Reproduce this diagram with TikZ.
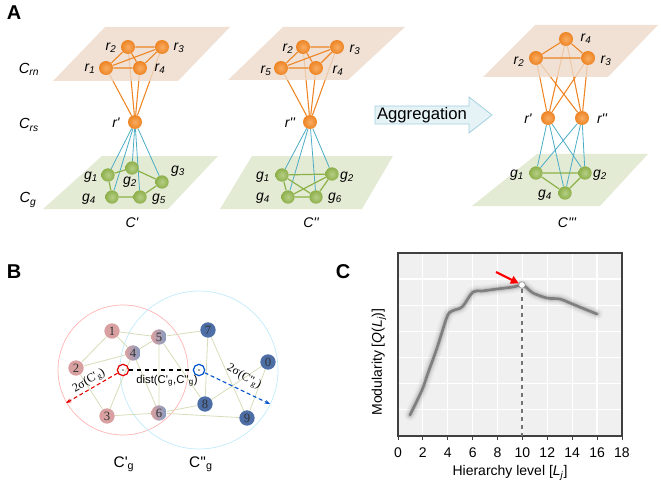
\documentclass[tikz,border=0pt]{standalone}
\usepackage{fontspec}
\setmainfont{Liberation Sans}
\newfontfamily\numfont{Liberation Serif}
\usetikzlibrary{arrows.meta}

\pgfdeclarelayer{deep}
\pgfdeclarelayer{planes}
\pgfdeclarelayer{links}
\pgfsetlayers{deep,planes,links,main}

\definecolor{rnplane}{HTML}{EDDACA}
\definecolor{gplane}{HTML}{E3EBD5}
\definecolor{rorange}{HTML}{EE8423}
\definecolor{rlight}{HTML}{F8AC62}
\definecolor{ggreen}{HTML}{8DAF4A}
\definecolor{glight}{HTML}{B6CF86}
\definecolor{gedge}{HTML}{8CB147}
\definecolor{bedge}{HTML}{4BACC6}
\definecolor{pinkball}{HTML}{D8A0A0}
\definecolor{blueball}{HTML}{4D6FA6}
\definecolor{weblink}{HTML}{D6DDB8}
\definecolor{plotbg}{HTML}{F0F0F0}
\definecolor{curvegray}{HTML}{7F7F7F}
\definecolor{arrowbg}{HTML}{E5F2F6}
\definecolor{arrowline}{HTML}{A3D1DF}

\newcommand{\subl}[2]{#1\textsubscript{#2}}
\newcommand{\pr}{\textquotesingle}

\tikzset{
  rball/.style={circle, inner sep=0pt, minimum size=10.5pt, shading=radial,
    inner color=rlight, outer color=rorange},
  gball/.style={circle, inner sep=0pt, minimum size=10pt, shading=radial,
    inner color=glight, outer color=ggreen},
  lbl/.style={font=\fontsize{10.5}{12}\selectfont\itshape, inner sep=0pt},
  layerlbl/.style={font=\fontsize{11}{13}\selectfont\itshape, inner sep=0pt},
  panel/.style={font=\fontsize{15}{17}\selectfont\bfseries, inner sep=0pt},
  redge/.style={rorange, line width=0.8pt},
  bedges/.style={bedge, line width=0.6pt},
  gedges/.style={gedge, line width=0.9pt},
  nball/.style={circle, inner sep=0pt, minimum size=11.5pt,
    font=\numfont\fontsize{9.5}{10}\selectfont, text=black!80},
  web/.style={weblink, line width=0.6pt},
  tick/.style={font=\fontsize{10.5}{12}\selectfont, inner sep=0pt}
}

\begin{document}
\begin{tikzpicture}[x=0.75pt, y=-0.75pt]
  \useasboundingbox (0,0) rectangle (661,485);

  % Panel A
  \node[panel] (pa) at (14,13) {A};
  \node[layerlbl] (lrn) at (29,69) {\subl{C}{rn}};
  \node[layerlbl] (lrs) at (29,125) {\subl{C}{rs}};
  \node[layerlbl] (lg) at (28,200) {\subl{C}{g}};

  % C' column
  \node[rball] (a1) at (106,68) {};
  \node[rball] (a2) at (128,47) {};
  \node[rball] (a3) at (162,47) {};
  \node[rball] (a4) at (140,68) {};
  \node[rball] (ap) at (135,122) {};
  \node[gball] (ag1) at (108,175) {};
  \node[gball] (ag2) at (132,168) {};
  \node[gball] (ag3) at (162,182) {};
  \node[gball] (ag4) at (112,197) {};
  \node[gball] (ag5) at (140,197) {};
  \node[lbl] (la1) at (90,69) {\subl{r}{1}};
  \node[lbl] (la2) at (111,48) {\subl{r}{2}};
  \node[lbl] (la3) at (179,48) {\subl{r}{3}};
  \node[lbl] (la4) at (160,69) {\subl{r}{4}};
  \node[lbl] (lap) at (116,123) {r\pr};
  \node[lbl] (lag1) at (91,177) {\subl{g}{1}};
  \node[lbl] (lag2) at (130,182) {\subl{g}{2}};
  \node[lbl] (lag3) at (178,171) {\subl{g}{3}};
  \node[lbl] (lag4) at (89,199) {\subl{g}{4}};
  \node[lbl] (lag5) at (159,199) {\subl{g}{5}};
  \node[lbl] (ca) at (132,223) {C\pr};
  \begin{pgfonlayer}{planes}
    \fill[rnplane, fill opacity=0.8] (105,27) -- (230,27) -- (178,81) -- (53,81) -- cycle;
    \fill[gplane] (102,156) -- (218,156) -- (168,209) -- (43,209) -- cycle;
  \end{pgfonlayer}
  \begin{pgfonlayer}{deep}
    \draw[redge] (ap) -- (a1) (ap) -- (a2) (ap) -- (a3) (ap) -- (a4);
  \end{pgfonlayer}
  \begin{pgfonlayer}{links}
    \draw[redge] (a1) -- (a2) -- (a3) -- (a4) -- (a1) -- (a3) (a2) -- (a4);
    \draw[bedges] (ap) -- (ag1) (ap) -- (ag2) (ap) -- (ag3) (ap) -- (ag4) (ap) -- (ag5);
    \draw[gedges] (ag1) -- (ag2) -- (ag3) -- (ag5) -- (ag4) -- (ag1);
  \end{pgfonlayer}

  % C'' column
  \node[rball] (b5) at (281,68) {};
  \node[rball] (b2) at (303,47) {};
  \node[rball] (b3) at (337,47) {};
  \node[rball] (b4) at (316,68) {};
  \node[rball] (bp) at (310,122) {};
  \node[gball] (bg1) at (282,175) {};
  \node[gball] (bg2) at (332,174) {};
  \node[gball] (bg4) at (288,197) {};
  \node[gball] (bg6) at (316,197) {};
  \node[lbl] (lb2) at (288,49) {\subl{r}{2}};
  \node[lbl] (lb3) at (355,50) {\subl{r}{3}};
  \node[lbl] (lb5) at (266,71) {\subl{r}{5}};
  \node[lbl] (lb4) at (338,71) {\subl{r}{4}};
  \node[lbl] (lbp) at (290,123) {r\pr\pr};
  \node[lbl] (lbg1) at (263,177) {\subl{g}{1}};
  \node[lbl] (lbg2) at (347,177) {\subl{g}{2}};
  \node[lbl] (lbg4) at (263,198) {\subl{g}{4}};
  \node[lbl] (lbg6) at (335,198) {\subl{g}{6}};
  \node[lbl] (cb) at (311,223) {C\pr\pr};
  \begin{pgfonlayer}{planes}
    \fill[rnplane, fill opacity=0.8] (283,27) -- (405,27) -- (348,80) -- (228,80) -- cycle;
    \fill[gplane] (252,156) -- (393,156) -- (362,209) -- (220,209) -- cycle;
  \end{pgfonlayer}
  \begin{pgfonlayer}{deep}
    \draw[redge] (bp) -- (b5) (bp) -- (b2) (bp) -- (b3) (bp) -- (b4);
  \end{pgfonlayer}
  \begin{pgfonlayer}{links}
    \draw[redge] (b5) -- (b2) -- (b3) -- (b4) -- (b5) -- (b3) (b2) -- (b4);
    \draw[bedges] (bp) -- (bg1) (bp) -- (bg2) (bp) -- (bg4) (bp) -- (bg6);
    \draw[gedges] (bg1) -- (bg2) -- (bg6) -- (bg4) -- (bg1) -- (bg6) (bg2) -- (bg4);
  \end{pgfonlayer}

  % Aggregation arrow
  \draw[arrowline, fill=arrowbg, line width=0.6pt]
    (375,106) -- (469,106) -- (469,97) -- (492,115) -- (469,133) -- (469,124)
    -- (375,124) -- cycle;
  \node[font=\fontsize{12.5}{14}\selectfont, inner sep=0pt] (agg) at (422,115) {Aggregation};

  % C''' column
  \node[rball] (c4) at (566,39) {};
  \node[rball] (c2) at (536,58) {};
  \node[rball] (c3) at (588,58) {};
  \node[rball] (cp) at (548,118) {};
  \node[rball] (cpp) at (582,118) {};
  \node[gball] (cg1) at (536,173) {};
  \node[gball] (cg2) at (585,173) {};
  \node[gball] (cg4) at (565,193) {};
  \node[lbl] (lc4) at (586,39) {\subl{r}{4}};
  \node[lbl] (lc2) at (519,62) {\subl{r}{2}};
  \node[lbl] (lc3) at (606,61) {\subl{r}{3}};
  \node[lbl] (lcp) at (528,119) {r\pr};
  \node[lbl] (lcpp) at (602,119) {r\pr\pr};
  \node[lbl] (lcg1) at (517,175) {\subl{g}{1}};
  \node[lbl] (lcg2) at (600,175) {\subl{g}{2}};
  \node[lbl] (lcg4) at (545,195) {\subl{g}{4}};
  \node[lbl] (cc) at (567,223) {C\pr\pr\pr};
  \begin{pgfonlayer}{planes}
    \fill[rnplane, fill opacity=0.8] (535,25) -- (658,25) -- (608,77) -- (483,77) -- cycle;
    \fill[gplane] (537,154) -- (648,154) -- (600,206) -- (472,206) -- cycle;
  \end{pgfonlayer}
  \begin{pgfonlayer}{deep}
    \draw[redge] (cp) -- (c2) (cp) -- (c4) (cp) -- (c3)
      (cpp) -- (c2) (cpp) -- (c4) (cpp) -- (c3);
  \end{pgfonlayer}
  \begin{pgfonlayer}{links}
    \draw[redge] (c2) -- (c4) -- (c3) -- (c2);
    \draw[bedges] (cp) -- (cg1) (cp) -- (cg2) (cp) -- (cg4)
      (cpp) -- (cg1) (cpp) -- (cg2) (cpp) -- (cg4);
    \draw[gedges] (cg1) -- (cg2) -- (cg4) -- (cg1);
  \end{pgfonlayer}

  % Panel B
  \node[panel] (pb) at (14,272) {B};
  \node[nball, fill=pinkball] (n1) at (112,331) {1};
  \node[nball, fill=pinkball] (n2) at (76,368) {2};
  \node[nball, fill=pinkball] (n3) at (107,416) {3};
  \node[nball, left color=pinkball, right color=blueball!70] (n4) at (133,353) {4};
  \node[nball, left color=pinkball, right color=blueball!70] (n5) at (159,337) {5};
  \node[nball, left color=pinkball, right color=blueball!70] (n6) at (159,413) {6};
  \node[nball, fill=blueball] (n7) at (208,330) {7};
  \node[nball, fill=blueball] (n0) at (268,362) {0};
  \node[nball, fill=blueball] (n8) at (205,404) {8};
  \node[nball, fill=blueball] (n9) at (247,418) {9};
  \node[circle, draw=red!90!black, line width=0.9pt, inner sep=0pt, minimum size=8.5pt] (cr) at (123,370) {};
  \node[circle, draw=blue!60!cyan!80!black, line width=0.9pt, inner sep=0pt, minimum size=8.5pt] (cbl) at (199,370) {};
  \fill[black!70] (cr) circle (0.9);
  \fill[black!70] (cbl) circle (0.9);
  \coordinate (redtip) at (66,403);
  \coordinate (bluetip) at (270,404);
  \begin{pgfonlayer}{links}
    \draw[red!30, line width=0.5pt] (cr) circle (65);
    \draw[cyan!25, line width=0.5pt] (cbl) circle (79);
    \draw[web] (n1) -- (n2) (n1) -- (n4) (n1) -- (n5) (n2) -- (n4) (n2) -- (n3)
      (n3) -- (n4) (n3) -- (n6) (n4) -- (n5) (n4) -- (n6) (n5) -- (n6)
      (n5) -- (n7) (n5) -- (n8) (n6) -- (n8) (n6) -- (n9) (n7) -- (n8)
      (n7) -- (n9) (n0) -- (n8) (n0) -- (n9);
  \end{pgfonlayer}
  \draw[black, dashed, line width=0.8pt] (cr) -- (cbl);
  \draw[red!90!black, densely dashed, line width=0.8pt, -{Stealth[length=4pt]}] (cr) -- (redtip);
  \draw[blue!60!cyan!80!black, densely dashed, line width=0.8pt, -{Stealth[length=4pt]}] (cbl) -- (bluetip);
  \node[font=\numfont\fontsize{9}{10}\selectfont, rotate=30, inner sep=0pt] (sr) at (89,381)
    {2σ(C\pr\textsubscript{g})};
  \node[font=\fontsize{8.5}{10}\selectfont, inner sep=0pt] (dd) at (167,381)
    {dist(C\pr\textsubscript{g},C\pr\pr\textsubscript{g})};
  \node[font=\numfont\fontsize{9}{10}\selectfont, rotate=-30, inner sep=0pt] (sb) at (244,377)
    {2σ(C\pr\pr\textsubscript{g})};
  \node[font=\fontsize{11.5}{13}\selectfont, inner sep=0pt] (cgp) at (124,464) {C\pr\textsubscript{g}};
  \node[font=\fontsize{11.5}{13}\selectfont, inner sep=0pt] (cgpp) at (201,464) {C\pr\pr\textsubscript{g}};

  % Panel C
  \node[panel] (pc) at (343,272) {C};
  \fill[plotbg] (398,253) rectangle (622,436);
  \foreach \t in {2,4,...,16}
    \draw[white, line width=0.9pt] ({398+12.44*\t},253) -- ({398+12.44*\t},436);
  \foreach \k in {1,...,6}
    \draw[white, line width=0.9pt] (398,{436-26.17*\k}) -- (622,{436-26.17*\k});
  \draw[black!75, line width=0.8pt] (398,253) rectangle (622,436);
  \foreach \t in {0,2,...,18} {
    \draw[black!75, line width=0.6pt] ({398+12.44*\t},436) -- ({398+12.44*\t},440);
    \node[tick] (t\t) at ({398+12.44*\t},453) {\t};
  }
  \node[tick] (xlab) at (510,473) {Hierarchy level [\textit{L\textsubscript{j}}]};
  \node[tick, rotate=90] (ylab) at (379,362) {Modularity [\textit{Q}(\textit{L\textsubscript{j}})]};
  \foreach \w/\c/\o in {9/black/0.025, 7/black/0.035, 5/black/0.05, 3.5/black/0.07, 2/curvegray/1}
    \draw[\c, line width=\w pt, opacity=\o, line cap=round, line join=round]
      plot[smooth, tension=0.55] coordinates {(410,415) (422,390) (428,373) (437,348)
      (447,317) (452,311) (458,309) (463,306) (473,292) (482,291) (497,289)
      (513,287) (522,285) (527,288) (533,293) (547,298) (560,299) (570,303)
      (587,310) (597,314)};
  \coordinate (pbase) at (522,436);
  \node[circle, fill=white, draw=black!50, line width=0.4pt, inner sep=0pt, minimum size=5pt] (peak) at (522,285) {};
  \draw[black!55, dashed, line width=0.9pt] (peak) -- (pbase);
  \coordinate (redfrom) at (496,272);
  \draw[red, line width=1.6pt, -{Triangle[length=6pt, width=6pt]}] (redfrom) -- (peak);
\end{tikzpicture}
\end{document}
